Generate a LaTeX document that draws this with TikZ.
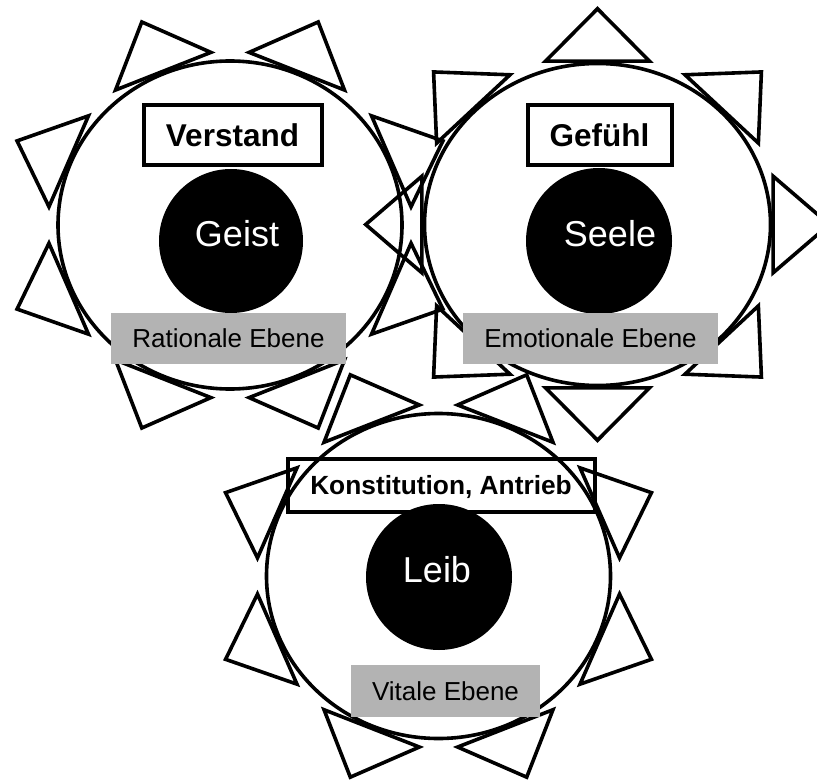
\documentclass[tikz,border=0pt]{standalone}
\usepackage{fontspec}
\setmainfont{Liberation Sans}
\definecolor{levelgray}{RGB}{179,179,179}
\newcommand{\sunring}[5]{%
  \begin{scope}[shift={(#1,#2)}, xscale=#3, yscale=#4]
    \draw[outline] (0,0) circle (1);
    \foreach \a in {0,45,...,315}{
      \draw[outline, rotate=\a+#5] (1.015,0.30) -- (1.34,0) -- (1.015,-0.30) -- cycle;
    }
  \end{scope}}
\begin{document}
\begin{tikzpicture}[x=1pt,y=-1pt,
  outline/.style={line width=3.6pt, line join=miter},
  namebox/.style={draw, line width=4pt, inner sep=0pt, text height=22.2pt, text depth=0pt,
    font=\bfseries\fontsize{31.5}{37}\selectfont},
  smallbox/.style={namebox, text height=18.8pt, font=\bfseries\fontsize{26.3}{31}\selectfont},
  core/.style={circle, fill=black, inner sep=0pt},
  coretext/.style={inner sep=0pt, text=white, text height=25.8pt, text depth=0pt,
    font=\fontsize{36}{43}\selectfont},
  levelbox/.style={fill=levelgray, inner sep=0pt, text height=18.6pt, text depth=0pt,
    font=\fontsize{26}{31}\selectfont}
]
\useasboundingbox (0,0) rectangle (817,781);

% suns
\sunring{230}{225}{172}{164}{22.5}
\sunring{597.5}{224.5}{173}{161}{0}
\sunring{438.5}{576}{172}{162.5}{22.5}

% upper label boxes
\node[namebox, minimum width=178pt, minimum height=60pt] (verstand) at (232.5,135.5) {Verstand};
\node[namebox, minimum width=144pt, minimum height=60pt] (gefuehl) at (599.5,135.5) {Gefühl};
\node[smallbox, minimum width=307pt, minimum height=53pt] (konst) at (441,485) {Konstitution, Antrieb};

% cores
\node[core, minimum size=144pt] (geist) at (231,241) {};
\node[core, minimum size=146pt] (seele) at (599,241) {};
\node[core, minimum size=146pt] (leib) at (439,577) {};
\node[coretext] (geisttext) at (237,234) {Geist};
\node[coretext] (seeletext) at (610,234) {Seele};
\node[coretext] (leibtext) at (437,570) {Leib};

% level boxes
\node[levelbox, minimum width=235pt, minimum height=51pt] (rational) at (228.5,338.5) {Rationale Ebene};
\node[levelbox, minimum width=255pt, minimum height=51pt] (emotional) at (590.5,338.5) {Emotionale Ebene};
\node[levelbox, minimum width=189pt, minimum height=52pt] (vital) at (445.5,691) {Vitale Ebene};
\end{tikzpicture}
\end{document}
